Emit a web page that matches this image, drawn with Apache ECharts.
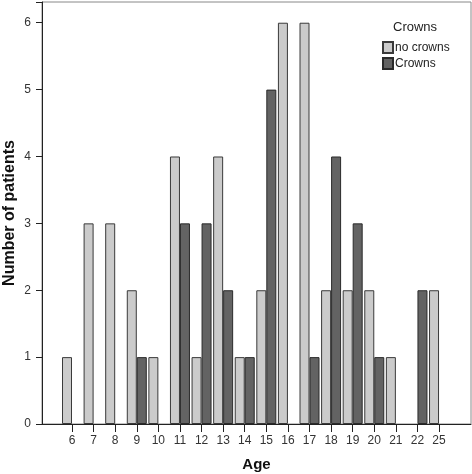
<!DOCTYPE html>
<html>
<head>
<meta charset="utf-8">
<script src="https://cdn.jsdelivr.net/npm/echarts@6/dist/echarts.min.js"></script>
<style>
html,body{margin:0;padding:0;background:#fff;}
#chart{width:472px;height:474px;}
</style>
</head>
<body>
<div id="chart"></div>
<script>
const ages = ['6','7','8','9','10','11','12','13','14','15','16','17','18','19','20','21','22','25'];
const noCrowns = [1,3,3,2,1,4,1,4,1,2,6,6,2,2,2,1,0,2];
const crowns   = [0,0,0,1,0,3,3,2,1,5,0,1,4,3,1,0,2,0];
const yTicks = [0,1,2,3,4,5,6];

const idx = ages.map((a,i)=>i);
const toData = arr => arr.map((v,i)=>[i, v === 0 ? null : v]);

const font = 'Liberation Sans, Arial, sans-serif';
const chart = echarts.init(document.getElementById('chart'));
chart.setOption({
  animation: false,
  backgroundColor: '#fff',
  title: {
    text: 'Crowns', left: 393, top: 21, padding: 0,
    textStyle: {fontFamily: font, fontSize: 13, fontWeight: 'normal', color: '#222'}
  },
  legend: {
    orient: 'vertical', left: 382, top: 41, itemGap: 3, padding: 0,
    itemWidth: 10, itemHeight: 11, icon: 'rect',
    textStyle: {fontFamily: font, fontSize: 12, color: '#222', padding: [0,0,0,-3]},
    data: ['no crowns', 'Crowns']
  },
  grid: {
    left: 42, right: 1, top: 2, bottom: 50,
    outerBoundsMode: 'none', containLabel: false,
    show: true, borderColor: '#888', borderWidth: 1, backgroundColor: 'transparent'
  },
  xAxis: {
    type: 'value', min: -1.39, max: 18.48,
    name: 'Age', nameLocation: 'middle', nameGap: 33, nameMoveOverlap: false,
    nameTextStyle: {fontFamily: font, fontSize: 15, fontWeight: 'bold', color: '#111'},
    splitLine: {show: false},
    axisLine: {show: true, onZero: false, lineStyle: {color: '#222', width: 1}},
    axisTick: {show: true, customValues: idx, length: 8, lineStyle: {color: '#222'}},
    axisLabel: {customValues: idx, formatter: v => ages[Math.round(v)] ?? '', margin: 11,
      fontFamily: font, fontSize: 12, color: '#333'}
  },
  yAxis: {
    type: 'value', min: 0, max: 6.31, interval: 1,
    name: 'Number of patients', nameLocation: 'middle', nameGap: 24, nameMoveOverlap: false,
    nameTextStyle: {fontFamily: font, fontSize: 16, fontWeight: 'bold', color: '#111'},
    splitLine: {show: false},
    axisLine: {show: true, onZero: false, lineStyle: {color: '#222', width: 1}},
    axisTick: {show: true, length: 6, lineStyle: {color: '#222'}},
    axisLabel: {customValues: yTicks, margin: 11, fontFamily: font, fontSize: 12, color: '#333'}
  },
  series: [
    {
      name: 'no crowns', type: 'bar', data: toData(noCrowns),
      barWidth: 10, barGap: '0%',
      itemStyle: {color: '#cbcbcb', borderColor: '#3a3a3a', borderWidth: 1}
    },
    {
      name: 'Crowns', type: 'bar', data: toData(crowns),
      barWidth: 10, barGap: '0%',
      itemStyle: {color: '#636363', borderColor: '#2a2a2a', borderWidth: 1}
    }
  ]
});
</script>
</body>
</html>
